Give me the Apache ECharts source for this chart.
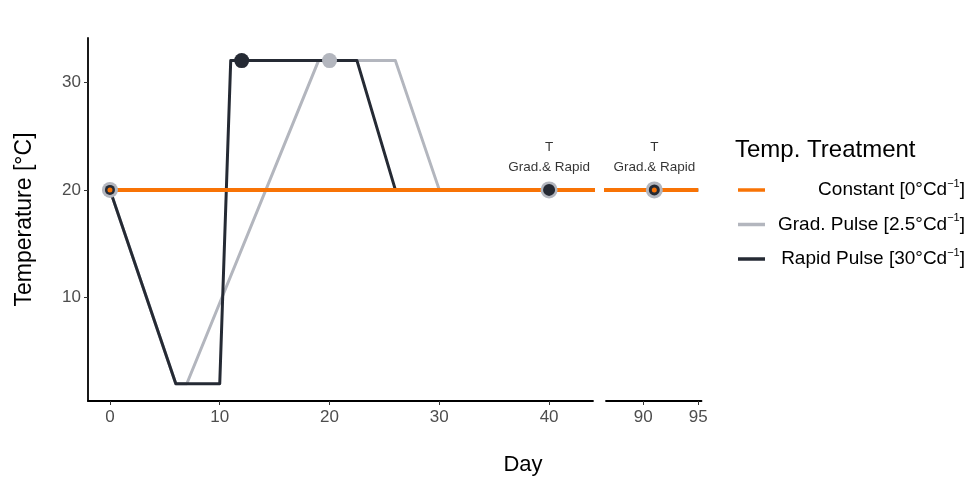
<!DOCTYPE html>
<html><head><meta charset="utf-8">
<script src="https://cdn.jsdelivr.net/npm/echarts@6/dist/echarts.min.js"></script>
<style>html,body{margin:0;padding:0;background:#fff}#c{width:969px;height:478px}</style>
</head><body><div id="c"></div><script>
// ---- data ----
const constantDays = [0, 95];
const constantTemps = [20, 20];
const gradDays = [0, 6, 7, 19, 26, 30, 95];
const gradTemps = [20, 2, 2, 32, 32, 20, 20];
const rapidDays = [0, 6, 10, 11, 22.5, 26, 95];
const rapidTemps = [20, 2, 2, 32, 32, 20, 20];
const gradPointDays = [0, 20, 40, 91];
const gradPointTemps = [20, 32, 20, 20];
const rapidPointDays = [0, 12, 40, 91];
const rapidPointTemps = [20, 32, 20, 20];
const constPointDays = [0, 91];
const constPointTemps = [20, 20];
const annotDays = [40, 91];
const annotTemps = [20, 20];
const annotTop = 'T';
const annotBottom = 'Grad.& Rapid';
const leftTicks = [0, 10, 20, 30, 40];
const rightTicks = [90, 95];
const yTicks = [10, 20, 30];
const treatmentNames = ['Constant', 'Grad. Pulse', 'Rapid Pulse'];
const treatmentRates = ['0', '2.5', '30'];

// ---- style ----
const C_ORANGE = '#F87305', C_GREY = '#B3B6BE', C_DARK = '#252A34';
const FONT = '"Liberation Sans", Arial, sans-serif';
const zip = (a, b) => a.map((v, i) => [v, b[i]]);
const inLeft = (d) => d < 50;

const xAxisCommon = (ticks) => ({
  type: 'value',
  axisLine: { show: true, onZero: false, lineStyle: { color: '#000', width: 1.8 } },
  axisTick: { show: true, length: 4, lineStyle: { color: '#333', width: 1 }, customValues: ticks },
  axisLabel: { color: '#4D4D4D', fontSize: 17, fontFamily: FONT, margin: 8, customValues: ticks },
  splitLine: { show: false }
});

const lineSeries = (name, days, temps, color, width, axisIdx, z) => ({
  type: 'line', name, xAxisIndex: axisIdx, yAxisIndex: axisIdx,
  data: zip(days, temps), symbol: 'none', showSymbol: false, clip: true, z,
  lineStyle: { color, width, join: 'round', cap: 'butt' }, itemStyle: { color },
  emphasis: { disabled: true }
});
const pointSeries = (name, days, temps, color, sizes, axisIdx, z) => ({
  type: 'scatter', name, xAxisIndex: axisIdx, yAxisIndex: axisIdx,
  data: zip(days, temps).map((p, i) => ({ value: p, symbolSize: sizes[i] })),
  symbol: 'circle', itemStyle: { color, opacity: 1 }, z, clip: true,
  emphasis: { disabled: true }
});
const pick = (days, temps, ax) => {
  const f = (d) => ax === 0 ? inLeft(d) : !inLeft(d);
  return [days.filter(f), temps.filter((t, i) => f(days[i]))];
};

const series = [];
[0, 1].forEach(ax => {
  series.push(lineSeries('Grad. Pulse', gradDays, gradTemps, C_GREY, 3, ax, 2));
  series.push(lineSeries('Rapid Pulse', rapidDays, rapidTemps, C_DARK, 3, ax, 3));
  series.push(lineSeries('Constant', constantDays, constantTemps, C_ORANGE, 4, ax, 4));
});
const sizes = {
  grad: [[16, 15, 17], [17]],
  rapid: [[10, 15, 12], [11]],
  cons: [[5], [5]]
};
[0, 1].forEach(ax => {
  let p = pick(gradPointDays, gradPointTemps, ax);
  series.push(pointSeries('gp' + ax, p[0], p[1], C_GREY, sizes.grad[ax], ax, 5));
  p = pick(rapidPointDays, rapidPointTemps, ax);
  series.push(pointSeries('rp' + ax, p[0], p[1], C_DARK, sizes.rapid[ax], ax, 6));
  p = pick(constPointDays, constPointTemps, ax);
  series.push(pointSeries('cp' + ax, p[0], p[1], C_ORANGE, sizes.cons[ax], ax, 7));
  p = pick(annotDays, annotTemps, ax);
  series.push({
    type: 'scatter', name: 'annot' + ax, xAxisIndex: ax, yAxisIndex: ax,
    data: zip(p[0], p[1]), symbolSize: 1, itemStyle: { color: 'rgba(0,0,0,0)' }, z: 8, silent: true,
    label: {
      show: true, position: 'top', distance: 12, color: '#000',
      formatter: '{a|' + annotTop + '}\n{a|' + annotBottom + '}',
      rich: { a: { fontSize: 13.5, lineHeight: 20, color: '#000', fontFamily: FONT, align: 'center' } }
    },
    emphasis: { disabled: true }
  });
});

const legendRich = {
  a: { fontSize: 19, lineHeight: 24, color: '#000', fontFamily: FONT, align: 'right' },
  s: { fontSize: 11, lineHeight: 11, color: '#000', fontFamily: FONT, align: 'right', verticalAlign: 'top' }
};

const option = {
  animation: false,
  backgroundColor: '#fff',
  textStyle: { fontFamily: FONT },
  title: {
    text: 'Temp. Treatment', left: 735, top: 138, padding: 0,
    textStyle: { fontSize: 24, fontWeight: 'normal', color: '#000', fontFamily: FONT }
  },
  legend: {
    orient: 'vertical', left: 738, top: 178, padding: 0, itemGap: 13,
    itemWidth: 27, itemHeight: 3.5, selectedMode: false,
    data: treatmentNames.map(n => ({ name: n, icon: 'rect' })),
    formatter: (name) => {
      const i = treatmentNames.indexOf(name);
      return '{a|' + name + ' [' + treatmentRates[i] + '°Cd}{s|−1}{a|]}';
    },
    textStyle: { width: 195, align: 'right', rich: legendRich, fontFamily: FONT }
  },
  grid: [
    { left: 88, top: 38, width: 505, height: 363 },
    { left: 606, top: 38, width: 95.5, height: 363 }
  ],
  xAxis: [
    Object.assign(xAxisCommon(leftTicks), { gridIndex: 0, min: -2, max: 44 }),
    Object.assign(xAxisCommon(rightTicks), { gridIndex: 1, min: 86.6, max: 95.3 })
  ],
  yAxis: [
    {
      type: 'value', gridIndex: 0, min: 0.4, max: 34.1,
      name: 'Temperature [°C]', nameLocation: 'middle', nameGap: 52,
      nameTextStyle: { fontSize: 23, color: '#000', fontFamily: FONT },
      axisLine: { show: true, onZero: false, lineStyle: { color: '#000', width: 1.8 } },
      axisTick: { show: true, length: 4, lineStyle: { color: '#333', width: 1 }, customValues: yTicks },
      axisLabel: { color: '#4D4D4D', fontSize: 17, fontFamily: FONT, margin: 7, customValues: yTicks },
      splitLine: { show: false }
    },
    {
      type: 'value', gridIndex: 1, min: 0.4, max: 34.1,
      axisLine: { show: false, onZero: false }, axisTick: { show: false }, axisLabel: { show: false }, splitLine: { show: false }
    }
  ],
  graphic: [{
    type: 'text', x: 523, y: 465,
    style: { text: 'Day', fontSize: 22, fill: '#000', fontFamily: FONT, align: 'center', verticalAlign: 'middle' }
  }],
  series
};
const chart = echarts.init(document.getElementById('c'), null, { renderer: 'canvas' });
chart.setOption(option);
</script></body></html>
